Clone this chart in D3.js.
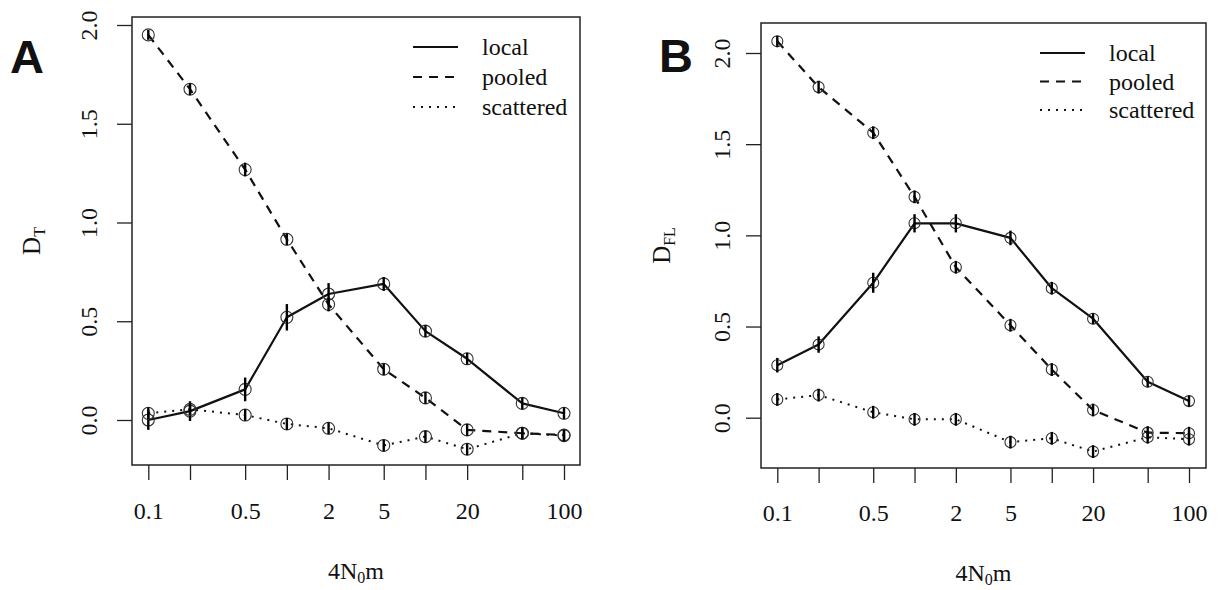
<!DOCTYPE html>
<html>
<head>
<meta charset="utf-8">
<script src="https://cdn.jsdelivr.net/npm/d3@7"></script>
<style>
  html, body { margin: 0; padding: 0; background: #fff; }
  svg { display: block; }
  svg text { fill: #111; }
</style>
</head>
<body>
<svg id="chart" width="1223" height="590"></svg>
<script>
// Migration rate values shared by both panels
const xValues = [0.1, 0.2, 0.5, 1, 2, 5, 10, 20, 50, 100];
const xTickLabels = ["0.1", "", "0.5", "", "2", "5", "", "20", "", "100"];
const yTicks = [0, 0.5, 1, 1.5, 2];
const yTickLabels = ["0.0", "0.5", "1.0", "1.5", "2.0"];
const seriesNames = ["local", "pooled", "scattered"];

// Panel A: D_T
const localA = [0.00, 0.045, 0.155, 0.52, 0.638, 0.689, 0.45, 0.31, 0.084, 0.034];
const localAErr = [0.05, 0.05, 0.06, 0.067, 0.055, 0.035, 0.03, 0.03, 0.03, 0.03];
const pooledA = [1.95, 1.675, 1.268, 0.915, 0.585, 0.257, 0.112, -0.05, -0.067, -0.076];
const pooledAErr = [0.025, 0.03, 0.035, 0.03, 0.035, 0.03, 0.03, 0.03, 0.03, 0.03];
const scatteredA = [0.034, 0.054, 0.025, -0.02, -0.042, -0.129, -0.084, -0.148, -0.067, -0.079];
const scatteredAErr = [0.03, 0.03, 0.03, 0.03, 0.03, 0.03, 0.03, 0.03, 0.03, 0.03];

// Panel B: D_FL
const localB = [0.288, 0.401, 0.74, 1.066, 1.066, 0.986, 0.71, 0.543, 0.197, 0.091];
const localBErr = [0.04, 0.045, 0.055, 0.05, 0.05, 0.04, 0.035, 0.03, 0.03, 0.03];
const pooledB = [2.064, 1.813, 1.563, 1.211, 0.825, 0.507, 0.264, 0.042, -0.082, -0.085];
const pooledBErr = [0.03, 0.035, 0.035, 0.035, 0.035, 0.035, 0.035, 0.035, 0.035, 0.035];
const scatteredB = [0.10, 0.124, 0.03, -0.009, -0.009, -0.134, -0.113, -0.186, -0.107, -0.118];
const scatteredBErr = [0.035, 0.035, 0.035, 0.035, 0.035, 0.035, 0.035, 0.035, 0.035, 0.035];

const SERIF = "Liberation Serif";

const lineStyles = {
  local: { dash: null, width: 2.2 },
  pooled: { dash: "9 7", width: 2.2 },
  scattered: { dash: "2 6", width: 2 }
};

const svg = d3.select("#chart");

function drawPanel(cfg) {
  const g = svg.append("g");
  const x = d3.scaleLog().domain([0.1, 100]).range([cfg.x0, cfg.x1]);
  const y = d3.scaleLinear().domain([0, 2]).range([cfg.y0, cfg.y2]);

  // plot frame
  g.append("rect")
    .attr("x", cfg.box[0]).attr("y", cfg.box[1])
    .attr("width", cfg.box[2] - cfg.box[0]).attr("height", cfg.box[3] - cfg.box[1])
    .attr("fill", "none").attr("stroke", "#222").attr("stroke-width", 1.5);

  // x axis
  const xa = g.append("g")
    .attr("transform", `translate(0,${cfg.box[3]})`)
    .call(d3.axisBottom(x).tickValues(xValues)
      .tickFormat((d, i) => xTickLabels[i]).tickSize(15).tickSizeOuter(0).tickPadding(0));
  xa.attr("font-family", SERIF).attr("font-size", 24);
  xa.select(".domain").remove();
  xa.selectAll(".tick line").attr("stroke", "#222").attr("stroke-width", 1.3);
  xa.selectAll(".tick text")
    .attr("y", cfg.xLabelY - cfg.box[3]).attr("dy", 0)
    .attr("fill", "#111");

  // y axis
  const ya = g.append("g")
    .attr("transform", `translate(${cfg.box[0]},0)`)
    .call(d3.axisLeft(y).tickValues(yTicks)
      .tickFormat((d, i) => yTickLabels[i]).tickSize(15).tickSizeOuter(0).tickPadding(0));
  ya.attr("font-family", SERIF).attr("font-size", 24);
  ya.select(".domain").remove();
  ya.selectAll(".tick line").attr("stroke", "#222").attr("stroke-width", 1.3);
  ya.selectAll(".tick text")
    .attr("x", 0).attr("y", 0).attr("dy", 0)
    .attr("text-anchor", "middle")
    .attr("fill", "#111")
    .attr("transform", `translate(${cfg.yLabelDx},0) rotate(-90)`);

  // axis titles
  const xt = g.append("text")
    .attr("x", (cfg.box[0] + cfg.box[2]) / 2).attr("y", cfg.xTitleY)
    .attr("text-anchor", "middle").attr("font-size", 24).attr("font-family", SERIF);
  xt.append("tspan").text("4N");
  xt.append("tspan").attr("dy", 4).attr("font-size", 16).text("0");
  xt.append("tspan").attr("dy", -4).text("m");

  const yt = g.append("text")
    .attr("transform", `translate(${cfg.yTitleX},${(cfg.box[1] + cfg.box[3]) / 2}) rotate(-90)`)
    .attr("text-anchor", "middle").attr("font-size", 25).attr("font-family", SERIF);
  yt.append("tspan").text("D");
  yt.append("tspan").attr("dy", 5).attr("font-size", 16).text(cfg.sub);

  // panel letter
  g.append("text")
    .attr("x", cfg.letterX).attr("y", cfg.letterY)
    .attr("font-family", "Liberation Sans")
    .attr("font-weight", "bold").attr("font-size", 47).attr("fill", "#000")
    .text(cfg.letter);

  const line = d3.line().x(d => x(d.x)).y(d => y(d.v));

  cfg.series.forEach(s => {
    const pts = xValues.map((xv, i) => ({ x: xv, v: s.values[i], e: s.err[i] }));
    const st = lineStyles[s.name];
    g.append("path").datum(pts)
      .attr("d", line).attr("fill", "none").attr("stroke", "#111")
      .attr("stroke-width", st.width)
      .attr("stroke-dasharray", st.dash)
      .attr("stroke-linejoin", "round");
    g.selectAll(null).data(pts).enter().append("circle")
      .attr("cx", d => x(d.x)).attr("cy", d => y(d.v)).attr("r", cfg.r)
      .attr("fill", "none").attr("stroke", "#333").attr("stroke-width", 1.1);
    g.selectAll(null).data(pts).enter().append("line")
      .attr("x1", d => x(d.x)).attr("x2", d => x(d.x))
      .attr("y1", d => y(d.v - d.e)).attr("y2", d => y(d.v + d.e))
      .attr("stroke", "#000").attr("stroke-width", 2.4);
  });

  // legend
  seriesNames.forEach((name, i) => {
    const ry = cfg.legY + i * cfg.legStep;
    const st = lineStyles[name];
    g.append("line")
      .attr("x1", cfg.legX).attr("x2", cfg.legX + 45)
      .attr("y1", ry).attr("y2", ry)
      .attr("stroke", "#111").attr("stroke-width", st.width)
      .attr("stroke-dasharray", st.dash);
    g.append("text")
      .attr("x", cfg.legX + 69).attr("y", ry + 8)
      .attr("font-size", 24).attr("font-family", SERIF).text(name);
  });
}

drawPanel({
  letter: "A", letterX: 10, letterY: 73, sub: "T",
  box: [132, 17, 580, 465], x0: 148.3, x1: 564, y0: 420, y2: 25,
  xLabelY: 519, xTitleY: 579, yLabelDx: -35, yTitleX: 40, r: 6,
  legX: 413, legY: 47, legStep: 30,
  series: [
    { name: "local", values: localA, err: localAErr },
    { name: "pooled", values: pooledA, err: pooledAErr },
    { name: "scattered", values: scatteredA, err: scatteredAErr }
  ]
});

drawPanel({
  letter: "B", letterX: 659, letterY: 72, sub: "FL",
  box: [761, 23, 1206, 468], x0: 777.3, x1: 1189, y0: 417.7, y2: 53,
  xLabelY: 521, xTitleY: 581, yLabelDx: -31, yTitleX: 670, r: 5.5,
  legX: 1040, legY: 53, legStep: 28.5,
  series: [
    { name: "local", values: localB, err: localBErr },
    { name: "pooled", values: pooledB, err: pooledBErr },
    { name: "scattered", values: scatteredB, err: scatteredBErr }
  ]
});
</script>
</body>
</html>
